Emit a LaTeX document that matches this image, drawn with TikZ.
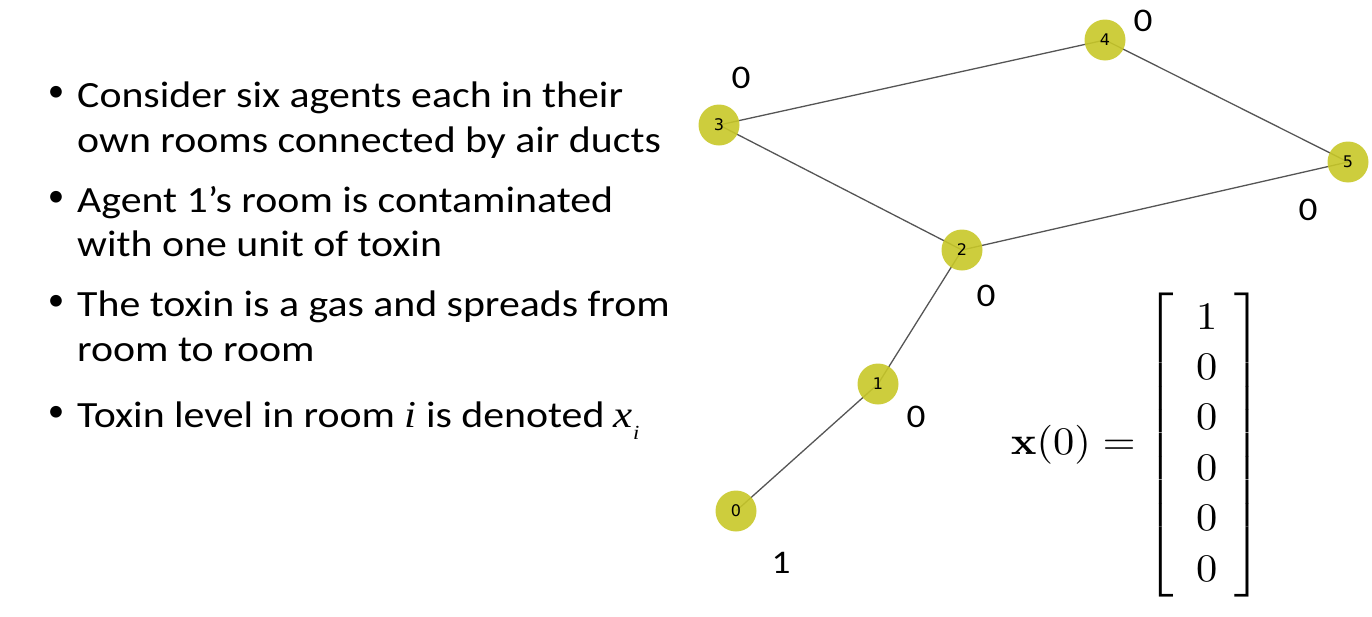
\RequirePackage{fix-cm}
\documentclass[tikz,border=0pt]{standalone}
\usepackage[no-math]{fontspec}
\usepackage{amsmath}
\usetikzlibrary{backgrounds}
\newfontfamily\calibri{Carlito}
\newfontfamily\dejavu{DejaVu Sans}
\newfontfamily\timesit{Liberation Serif}
\definecolor{roomyellow}{RGB}{200,200,40}
\definecolor{ductgray}{RGB}{85,85,85}
\tikzset{
  room/.style={circle, fill=roomyellow, fill opacity=0.9, text opacity=1, minimum size=41, inner sep=0, font=\dejavu\fontsize{16}{16}\selectfont},
  duct/.style={draw=ductgray, line width=1.3},
  level/.style={inner sep=0, xscale=1.13, font=\calibri\fontsize{33}{33}\selectfont},
  bulletline/.style={anchor=base west, inner sep=0, xscale=1.13, font=\calibri\fontsize{37}{37}\selectfont},
  bulletdot/.style={anchor=base, inner sep=0, font=\calibri\fontsize{33}{33}\selectfont}
}
\begin{document}
\begin{tikzpicture}[x=1pt, y=-1pt]
  \useasboundingbox (0,0) rectangle (1372,616);
  % rooms
  \node[room] (r0) at (736,511) {0};
  \node[room] (r1) at (878,384) {1};
  \node[room] (r2) at (962,250) {2};
  \node[room] (r3) at (719,125) {3};
  \node[room] (r4) at (1105,40) {4};
  \node[room] (r5) at (1348,162) {5};
  \begin{scope}[on background layer]
    \draw[duct] (r0.center) -- (r1.center) -- (r2.center) -- (r3.center)
      -- (r4.center) -- (r5.center) -- (r2.center);
  \end{scope}
  % toxin levels
  \node[level] (l0) at (781,563) {1};
  \node[level] (l1) at (916,417) {0};
  \node[level] (l2) at (986,296) {0};
  \node[level] (l3) at (741,78) {0};
  \node[level] (l4) at (1143,21) {0};
  \node[level] (l5) at (1308,210) {0};
  % bullets
  \foreach \y in {107,212,316,427}
    \node[bulletdot] at (56,\y-6) {•};
  \node[bulletline] (t1a) at (77,107) {Consider six agents each in their};
  \node[bulletline] (t1b) at (77,152) {own rooms connected by air ducts};
  \node[bulletline] (t2a) at (77,212) {Agent 1’s room is contaminated};
  \node[bulletline] (t2b) at (77,256) {with one unit of toxin};
  \node[bulletline] (t3a) at (77,316) {The toxin is a gas and spreads from};
  \node[bulletline] (t3b) at (77,361) {room to room};
  \node[bulletline] (t4) at (77,427) {Toxin level in room {\timesit\itshape\fontsize{38}{38}\selectfont i} is denoted {\timesit\itshape\fontsize{38}{38}\selectfont x}\raisebox{-0.33em}{\timesit\itshape\fontsize{20}{20}\selectfont i}};
  % initial state
  \node[inner sep=0, anchor=west, xscale=4.25, yscale=3.9] (state) at (1010,445) {\fontsize{10}{12.92}\selectfont $\mathbf{x}(0) =\hspace{-0.5pt} \left[\begin{array}{@{\hspace{5.25pt}}c@{\hspace{4.1pt}}}1\\0\\0\\0\\0\\0\end{array}\right]$};
\end{tikzpicture}
\end{document}
